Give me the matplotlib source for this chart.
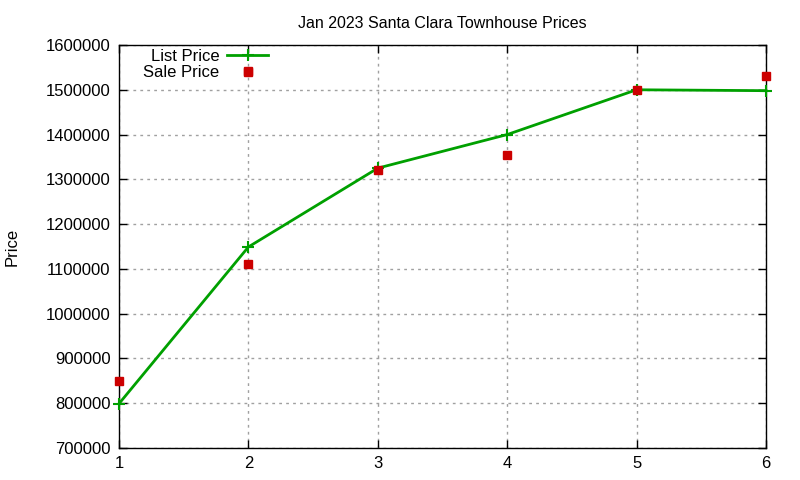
import matplotlib
matplotlib.use("Agg")
import matplotlib.pyplot as plt
from matplotlib.ticker import MultipleLocator, FormatStrFormatter

plt.rcParams["font.family"] = ["Liberation Sans", "DejaVu Sans"]

# data
list_x = [1, 2, 3, 4, 5, 6]
list_price = [799000, 1149000, 1325000, 1400000, 1500000, 1498000]
sale_x = [1, 2, 2, 3, 4, 5, 6]
sale_price = [850000, 1540000, 1110000, 1320000, 1355000, 1500000, 1530000]

green = "#00a000"
red = "#cc0000"

fig = plt.figure(figsize=(8, 4.8), dpi=100)
ax = fig.add_axes([119 / 800, 1 - 448 / 480, (766 - 119) / 800, (448 - 45) / 480])

ax.plot(list_x, list_price, color=green, lw=2, marker="+", ms=9, mew=1.5,
        label="List Price", zorder=3, clip_on=False)
ax.plot(sale_x, sale_price, ls="none", marker="s", ms=6, color=red,
        label="Sale Price", zorder=4, clip_on=False)

ax.set_xlim(1, 6)
ax.set_ylim(700000, 1600000)
ax.xaxis.set_major_locator(MultipleLocator(1))
ax.yaxis.set_major_locator(MultipleLocator(100000))
ax.yaxis.set_major_formatter(FormatStrFormatter("%d"))
ax.tick_params(direction="in", top=True, right=True, labelsize=12, length=6,
               width=1, pad=6)
ax.grid(True, color="#a0a0a0", ls=(0, (2, 3)), lw=1)
for s in ax.spines.values():
    s.set_linewidth(1)

ax.set_ylabel("Price", fontsize=12, labelpad=18.5)
ax.set_title("Jan 2023 Santa Clara Townhouse Prices", fontsize=11.5, pad=12.5)

leg = ax.legend(loc="upper right", bbox_to_anchor=(0.231, 0.99), frameon=False,
                markerfirst=False, numpoints=1, fontsize=12, handlelength=2.5,
                handletextpad=0.45, labelspacing=0.05, borderaxespad=0.0,
                borderpad=0.0)

fig.savefig("out.png", dpi=100)
